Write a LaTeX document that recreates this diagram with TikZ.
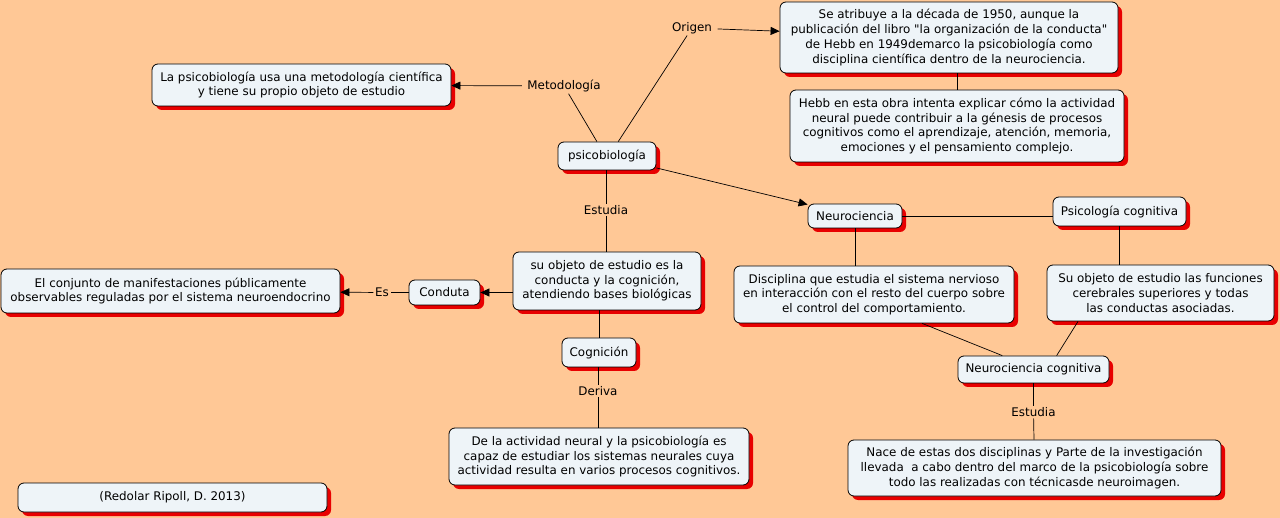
\documentclass[tikz,border=0pt]{standalone}
\usepackage{fontspec}
\setmainfont{DejaVu Sans}
\usepackage{tikz}
\usetikzlibrary{arrows.meta,shadows}
\definecolor{fondo}{RGB}{255,200,150}
\definecolor{caja}{RGB}{238,244,248}
\definecolor{sombra}{RGB}{232,0,0}
\tikzset{
concepto/.style={draw=black, line width=0.8pt, fill=caja, rounded corners=6pt, align=center, inner sep=2pt,
  font=\fontsize{11.9}{14.7}\selectfont,
  drop shadow={shadow xshift=4pt, shadow yshift=-4pt, fill=sombra, opacity=1}},
enlace/.style={inner sep=1.5pt, font=\fontsize{11.9}{14.7}\selectfont},
conector/.style={line width=0.7pt},
flecha/.style={line width=0.7pt, -{Triangle[length=9pt,width=8pt]}}
}
\begin{document}
\begin{tikzpicture}[x=1pt,y=-1pt]
\useasboundingbox[fill=fondo] (0,0) rectangle (1280,518);
\node[concepto, minimum width=299, minimum height=42] (lapsico) at (301.5,85) {La psicobiología usa una metodología científica\\y tiene su propio objeto de estudio};
\node[concepto, minimum width=338, minimum height=71] (atrib) at (949,37.5) {Se atribuye a la década de 1950, aunque la\\publicación del libro \textquotedbl la organización de la conducta\textquotedbl\\de Hebb en 1949demarco la psicobiología como\\disciplina científica dentro de la neurociencia.};
\node[concepto, minimum width=334, minimum height=72] (hebb) at (957,126) {Hebb en esta obra intenta explicar cómo la actividad\\neural puede contribuir a la génesis de procesos\\cognitivos como el aprendizaje, atención, memoria,\\emociones y el pensamiento complejo.};
\node[concepto, minimum width=98, minimum height=28] (psico) at (607,156) {psicobiología};
\node[concepto, minimum width=94, minimum height=24] (neuro) at (855,216) {Neurociencia};
\node[concepto, minimum width=133, minimum height=29] (psicog) at (1119.5,211.5) {Psicología cognitiva};
\node[concepto, minimum width=280, minimum height=57] (discip) at (874,294.5) {Disciplina que estudia el sistema nervioso\\en interacción con el resto del cuerpo sobre\\el control del comportamiento.};
\node[concepto, minimum width=227, minimum height=56] (suobj) at (1160.5,293) {Su objeto de estudio las funciones\\cerebrales superiores y todas\\las conductas asociadas.};
\node[concepto, minimum width=151, minimum height=27] (neurocog) at (1033.5,369.5) {Neurociencia cognitiva};
\node[concepto, minimum width=373, minimum height=56] (nace) at (1034.5,468) {Nace de estas dos disciplinas y Parte de la investigación\\llevada\ \ a cabo dentro del marco de la psicobiología sobre\\todo las realizadas con técnicasde neuroimagen.};
\node[concepto, minimum width=188, minimum height=58] (suobjes) at (607,281) {su objeto de estudio es la\\conducta y la cognición,\\atendiendo bases biológicas};
\node[concepto, minimum width=71, minimum height=25] (conduta) at (444.5,292.5) {Conduta};
\node[concepto, minimum width=339, minimum height=44] (conjunto) at (170.5,291) {El conjunto de manifestaciones públicamente\\observables reguladas por el sistema neuroendocrino};
\node[concepto, minimum width=74, minimum height=29] (cogn) at (599,352.5) {Cognición};
\node[concepto, minimum width=300, minimum height=57] (delaact) at (599,456.5) {De la actividad neural y la psicobiología es\\capaz de estudiar los sistemas neurales cuya\\actividad resulta en varios procesos cognitivos.};
\node[concepto, minimum width=309, minimum height=29] (redolar) at (172.5,497.5) {(Redolar Ripoll, D. 2013)};

\node[enlace] (metod) at (564,86) {Metodología};
\node[enlace] (origen) at (692,28) {Origen};
\node[enlace] (estudiaA) at (606,210) {Estudia};
\node[enlace] (es) at (382,292.5) {Es};
\node[enlace] (deriva) at (598,391) {Deriva};
\node[enlace] (estudiaB) at (1033.5,412) {Estudia};

\draw[conector] (psico.125) -- (metod);
\draw[flecha, shorten <=4pt] (metod) -- (lapsico);
\draw[conector] (psico.52) -- (origen);
\draw[flecha, shorten <=4pt] (origen) -- (atrib);
\draw[conector] (hebb.north |- atrib.south) -- (hebb.north);
\draw[flecha] (psico) -- (neuro);
\draw[conector] (neuro.east) -- (neuro.east -| psicog.west);
\draw[conector] (neuro.south) -- (neuro.south |- discip.north);
\draw[conector] (psicog.south) -- (psicog.south |- suobj.north);
\draw[conector] (discip.329) -- (neurocog.156);
\draw[conector] (suobj.199) -- (neurocog.31);
\draw[conector] (neurocog) -- (estudiaB);
\draw[conector] (estudiaB) -- (nace);
\draw[conector] (psico.south -| estudiaA) -- (estudiaA);
\draw[conector] (estudiaA) -- (estudiaA |- suobjes.north);
\draw[flecha] (suobjes.west |- conduta.east) -- (conduta.east);
\draw[conector] (conduta) -- (es);
\draw[flecha] (es) -- (conjunto);
\draw[conector] (cogn.north |- suobjes.south) -- (cogn.north);
\draw[conector] (cogn.south -| deriva) -- (deriva);
\draw[conector] (deriva) -- (deriva |- delaact.north);
\end{tikzpicture}
\end{document}
